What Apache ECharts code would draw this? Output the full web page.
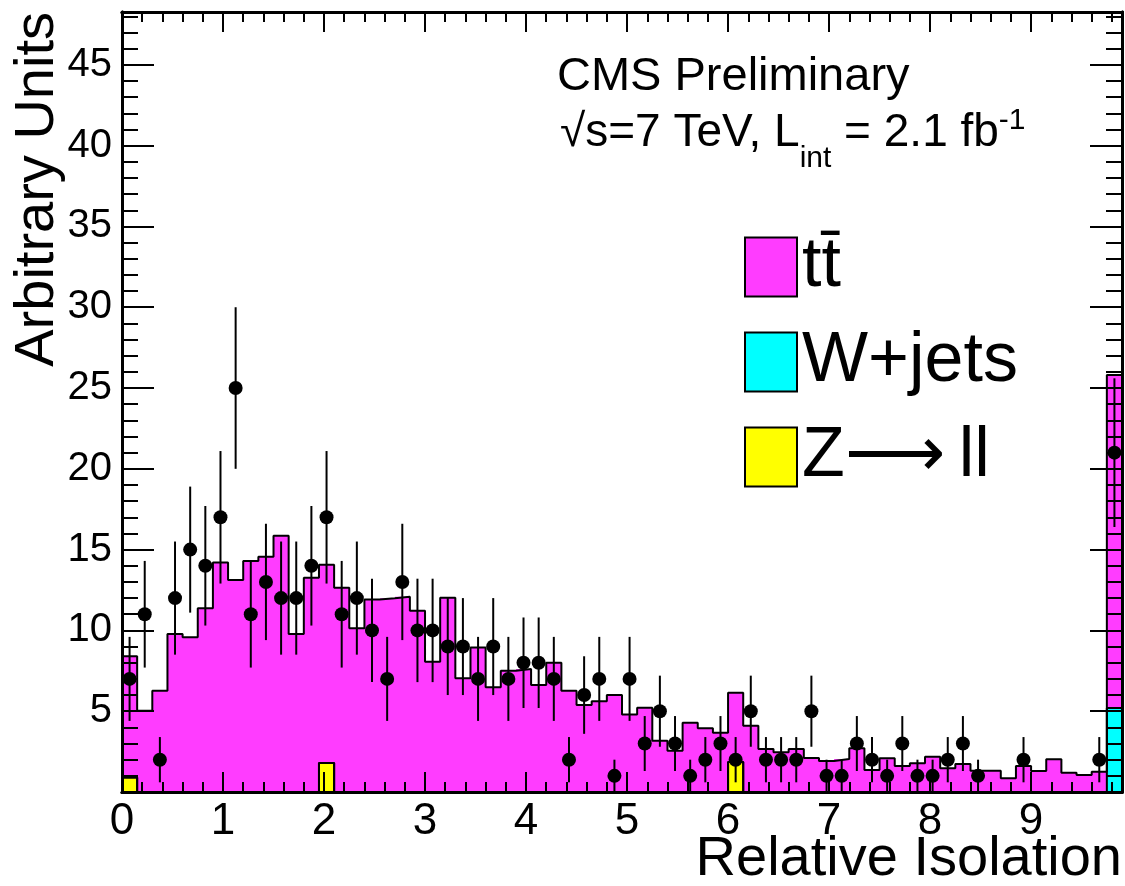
<!DOCTYPE html>
<html>
<head>
<meta charset="utf-8">
<title>Relative Isolation</title>
<script src="https://cdn.jsdelivr.net/npm/echarts@6/dist/echarts.min.js"></script>
<style>
  html, body { margin: 0; padding: 0; background: #fff; }
  #chartMain { width: 1125px; height: 886px; }
</style>
</head>
<body>
<div id="chartMain"></div>
<script>
var myChart;
var option;
var FONT = '"Liberation Sans", Arial, Helvetica, sans-serif';

/*** binning: 66 bins of 0.15, the last one holds the overflow ***/
var binWidth = 0.15;
var xMax = 9.9;
var yMax = 48.27;
var xTickLabels = ['0', '1', '2', '3', '4', '5', '6', '7', '8', '9'];
var yTickLabels = ['5', '10', '15', '20', '25', '30', '35', '40', '45'];
var legendNames = ['tt\u0304', 'W+jets', 'Z\u27F6\u2009ll'];

/*** MC stack, per bin ***/
var ttbar = [7.5, 5.03, 6.27, 9.78, 9.57, 11.37, 14.21, 13.12, 14.29, 14.56,
             15.86, 9.78, 13.26, 12.27, 12.64, 10.13, 11.91, 11.99, 12.09, 11.22,
             8.06, 12.02, 7.04, 8.95, 6.48, 7.51, 7.61, 6.62, 8.0, 6.27,
             5.38, 5.62, 6.0, 4.8, 5.22, 3.17, 2.55, 4.29, 3.94, 3.67,
             4.29, 4.1, 2.66, 2.46, 2.66, 2.1, 1.92, 2.04, 2.7, 1.36,
             2.09, 1.61, 1.78, 2.18, 1.47, 1.73, 1.32, 1.32, 0.85, 1.61,
             1.3, 2.02, 1.19, 1.05, 1.26, 20.6];
var wjets = [0, 0, 0, 0, 0, 0, 0, 0, 0, 0,
             0, 0, 0, 0, 0, 0, 0, 0, 0, 0,
             0, 0, 0, 0, 0, 0, 0, 0, 0, 0,
             0, 0, 0, 0, 0, 0, 0, 0, 0, 0,
             0, 0, 0, 0, 0, 0, 0, 0, 0, 0,
             0, 0, 0, 0, 0, 0, 0, 0, 0, 0,
             0, 0, 0, 0, 0, 5.2];
var zll = [0.9, 0, 0, 0, 0, 0, 0, 0, 0, 0,
           0, 0, 0, 1.8, 0, 0, 0, 0, 0, 0,
           0, 0, 0, 0, 0, 0, 0, 0, 0, 0,
           0, 0, 0, 0, 0, 0, 0, 0, 0, 0,
           1.85, 0, 0, 0, 0, 0, 0, 0, 0, 0,
           0, 0, 0, 0, 0, 0, 0, 0, 0, 0,
           0, 0, 0, 0, 0, 0];

/*** data: counts per bin (null = empty) and their error bars ***/
var counts = [7, 11, 2, 12, 15, 14, 17, 25, 11, 13,
              12, 12, 14, 17, 11, 12, 10, 7, 13, 10,
              10, 9, 9, 7, 9, 7, 8, 8, 7, 2,
              6, 7, 1, 7, 3, 5, 3, 1, 2, 3,
              2, 5, 2, 2, 2, 5, 1, 1, 3, 2,
              1, 3, 1, 1, 2, 3, 1, null, null, 2,
              null, null, null, null, 2, 21];
var errs = [2.6, 3.3, 1.4, 3.5, 3.9, 3.7, 4.1, 5.0, 3.3, 3.6,
            3.5, 3.5, 3.7, 4.1, 3.3, 3.5, 3.2, 2.6, 3.6, 3.2,
            3.2, 3.0, 3.0, 2.6, 3.0, 2.6, 2.8, 2.8, 2.6, 1.4,
            2.4, 2.6, 1.0, 2.6, 1.7, 2.2, 1.7, 1.0, 1.4, 1.7,
            1.4, 2.2, 1.4, 1.4, 1.4, 2.2, 1.0, 1.0, 1.7, 1.4,
            1.0, 1.7, 1.0, 1.0, 1.4, 1.7, 1.0, null, null, 1.4,
            null, null, null, null, 1.4, 4.6];

var colTT = '#ff3cff';
var colW = '#00ffff';
var colZ = '#ffff00';

function stackUp(a, b) {
	return a.map(function(v, i) { return v + b[i]; });
}
var cumZ = zll;
var cumW = stackUp(zll, wjets);
var cumT = stackUp(cumW, ttbar);

//filled bins between two stack levels
function rectData(base, top) {
	var d = [];
	for (var i = 0; i < top.length; i++) {
		if (top[i] > base[i]) d.push([i * binWidth, (i + 1) * binWidth, base[i], top[i]]);
	}
	return d;
}
//outline of one stack level as a step line
function stepData(top) {
	var d = [];
	for (var i = 0; i < top.length; i++) d.push([i * binWidth, top[i]]);
	d.push([xMax, top[top.length - 1]]);
	return d;
}
function renderBin(params, api) {
	var p0 = api.coord([api.value(0), api.value(3)]);
	var p1 = api.coord([api.value(1), api.value(2)]);
	var x0 = Math.round(p0[0]), x1 = Math.round(p1[0]);
	return {
		type: 'rect',
		shape: { x: x0, y: p0[1], width: x1 - x0, height: p1[1] - p0[1] },
		style: { fill: api.visual('color') }
	};
}
function renderErr(params, api) {
	var lo = api.coord([api.value(0), api.value(1)]);
	var hi = api.coord([api.value(0), api.value(2)]);
	return {
		type: 'line',
		shape: { x1: lo[0], y1: lo[1], x2: hi[0], y2: hi[1] },
		style: { stroke: '#000', lineWidth: 2 }
	};
}

var dataPts = [];
var errBars = [];
counts.forEach(function(n, i) {
	if (n === null) return;
	var xc = (i + 0.5) * binWidth;
	dataPts.push([xc, n]);
	errBars.push([xc, n - errs[i], n + errs[i]]);
});

/*** axes: major + minor ticks on all four sides, ROOT style ***/
function xAxisCfg(pos, step, len, labels) {
	return {
		type: 'value', position: pos, min: 0, max: xMax, interval: step, z: 3,
		axisLine: { show: true, onZero: false, lineStyle: { color: '#000', width: 3 } },
		axisTick: { show: true, inside: true, length: len, lineStyle: { color: '#000', width: 2 } },
		axisLabel: {
			show: labels, margin: 8, fontSize: 44, fontFamily: FONT, color: '#000',
			showMinLabel: true, showMaxLabel: false,
			formatter: function(v) {
				var s = String(Math.round(v * 100) / 100);
				return xTickLabels.indexOf(s) >= 0 ? s : '';
			}
		},
		splitLine: { show: false }
	};
}
function yAxisCfg(pos, step, len, labels) {
	return {
		type: 'value', position: pos, min: 0, max: yMax, interval: step, z: 3,
		axisLine: { show: true, onZero: false, lineStyle: { color: '#000', width: 3 } },
		axisTick: { show: true, inside: true, length: len, lineStyle: { color: '#000', width: 2 } },
		axisLabel: {
			show: labels, margin: 10, fontSize: 40, fontFamily: FONT, color: '#000',
			formatter: function(v) {
				var s = String(Math.round(v * 100) / 100);
				return yTickLabels.indexOf(s) >= 0 ? s : '';
			}
		},
		splitLine: { show: false }
	};
}

$ready();

function $ready() {
	myChart = echarts.init(document.getElementById('chartMain'), null, { renderer: 'canvas' });

	option = {
		animation: false,
		backgroundColor: '#fff',
		grid: { left: 122, right: 3, top: 12, bottom: 94 },
		xAxis: [
			xAxisCfg('bottom', 1, 20, true),
			xAxisCfg('bottom', 0.2, 10, false),
			xAxisCfg('top', 1, 20, false),
			xAxisCfg('top', 0.2, 10, false)
		],
		yAxis: [
			yAxisCfg('left', 5, 32, true),
			yAxisCfg('left', 1, 16, false),
			yAxisCfg('right', 5, 32, false),
			yAxisCfg('right', 1, 16, false)
		],
		legend: {
			orient: 'vertical', left: 739, top: 227,
			itemWidth: 52, itemHeight: 59, itemGap: 25,
			icon: 'rect', selectedMode: false,
			itemStyle: { borderColor: '#000', borderWidth: 2 },
			textStyle: { fontSize: 70, fontFamily: FONT, color: '#000', lineHeight: 59 },
			data: legendNames
		},
		graphic: [
			{
				type: 'text', x: 557, y: 77, silent: true,
				style: { text: 'CMS Preliminary', font: '47px ' + FONT, fill: '#000', align: 'left', verticalAlign: 'middle' }
			},
			{
				type: 'text', x: 560, y: 105, silent: true,
				style: {
					text: '{n|\u221As=7 TeV, L}{sub|int}{n| = 2.1 fb}{sup|-1}',
					fill: '#000', align: 'left', verticalAlign: 'top',
					rich: {
						n: { fontSize: 46, fontFamily: FONT, lineHeight: 48, padding: [5, 0, 0, 0], verticalAlign: 'top' },
						sub: { fontSize: 30, fontFamily: FONT, lineHeight: 30, padding: [39, 0, 0, 0], verticalAlign: 'top' },
						sup: { fontSize: 30, fontFamily: FONT, lineHeight: 30, padding: [1, 0, 0, 0], verticalAlign: 'top' }
					}
				}
			},
			{
				type: 'text', x: 38, y: 12, rotation: Math.PI / 2, silent: true,
				style: { text: 'Arbitrary Units', font: '56px ' + FONT, fill: '#000', align: 'right', verticalAlign: 'middle' }
			},
			{
				type: 'text', x: 1122, y: 860, silent: true,
				style: { text: 'Relative Isolation', font: '56px ' + FONT, fill: '#000', align: 'right', verticalAlign: 'middle' }
			}
		],
		series: [
			{ name: legendNames[2], type: 'custom', renderItem: renderBin, itemStyle: { color: colZ },
			  encode: { x: [0, 1], y: [2, 3] }, data: rectData(cumZ.map(function() { return 0; }), cumZ), z: 1, silent: true },
			{ name: legendNames[1], type: 'custom', renderItem: renderBin, itemStyle: { color: colW },
			  encode: { x: [0, 1], y: [2, 3] }, data: rectData(cumZ, cumW), z: 1, silent: true },
			{ name: legendNames[0], type: 'custom', renderItem: renderBin, itemStyle: { color: colTT },
			  encode: { x: [0, 1], y: [2, 3] }, data: rectData(cumW, cumT), z: 1, silent: true },
			{ type: 'line', step: 'end', data: stepData(cumT), symbol: 'none', silent: true, z: 2,
			  lineStyle: { color: '#000', width: 2 } },
			{ type: 'line', step: 'end', data: stepData(cumW), symbol: 'none', silent: true, z: 2,
			  lineStyle: { color: '#000', width: 2 } },
			{ type: 'line', step: 'end', data: stepData(cumZ), symbol: 'none', silent: true, z: 2,
			  lineStyle: { color: '#000', width: 2 } },
			{ type: 'custom', renderItem: renderErr, encode: { x: 0, y: [1, 2] }, data: errBars, z: 4, silent: true },
			{ type: 'scatter', data: dataPts, symbol: 'circle', symbolSize: 14, itemStyle: { color: '#000', opacity: 1 }, z: 5, silent: true }
		]
	};
	myChart.setOption(option);
}
</script>
</body>
</html>
